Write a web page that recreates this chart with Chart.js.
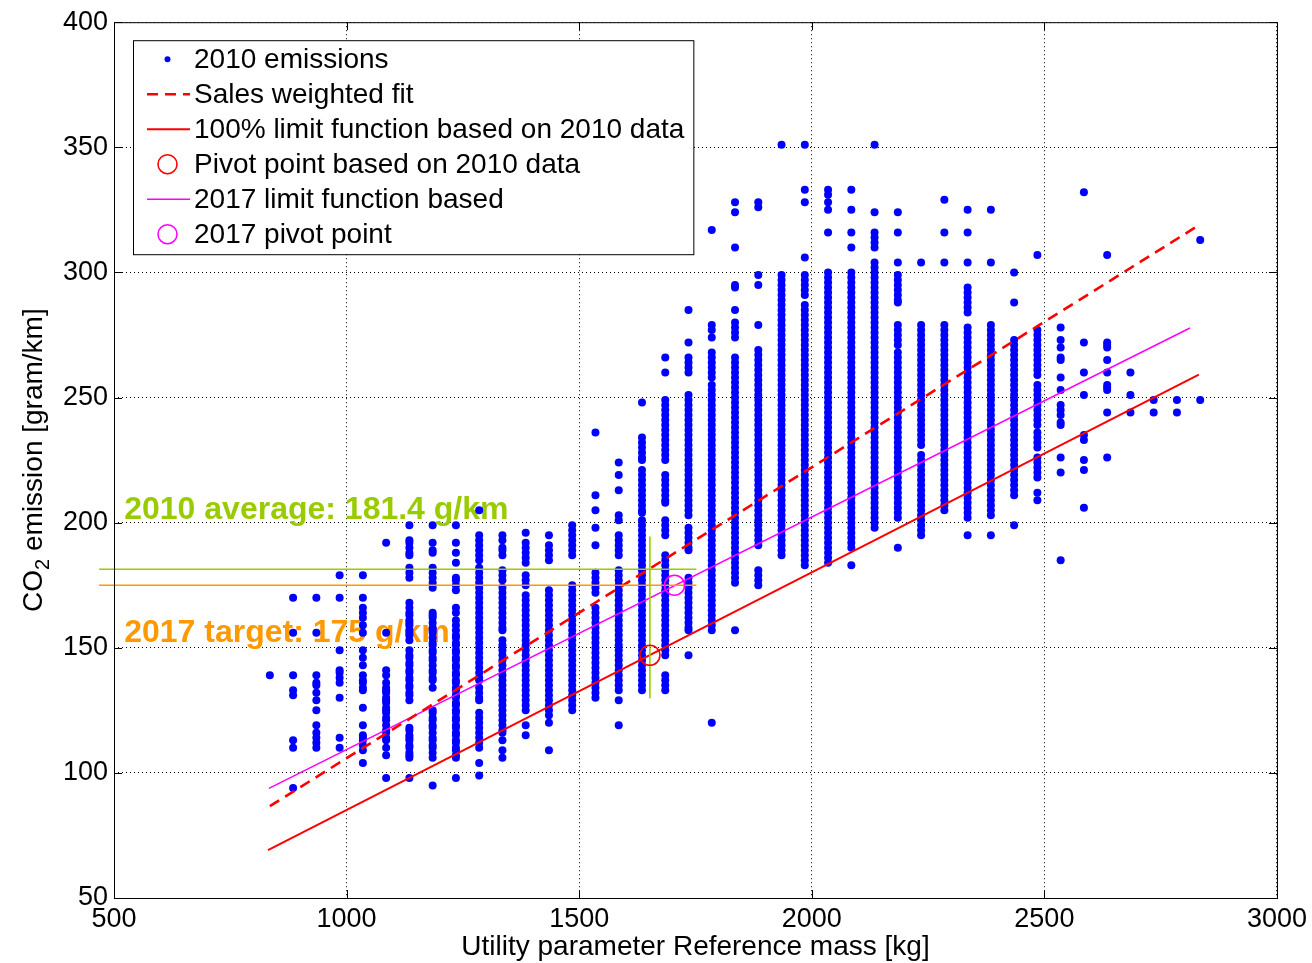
<!DOCTYPE html>
<html>
<head>
<meta charset="utf-8">
<title>CO2 emission vs reference mass</title>
<script src="https://cdn.jsdelivr.net/npm/chart.js@4.4.1/dist/chart.umd.min.js"></script>
<style>
  html, body { margin: 0; padding: 0; background: #fff; }
  canvas { display: block; }
</style>
</head>
<body>
<canvas id="co2Chart" width="1312" height="963"></canvas>
<script>
// ---- data ----
const massKg = [835, 885, 935, 985, 1035, 1085, 1135, 1185, 1235, 1285, 1335, 1385, 1435, 1485, 1535, 1585, 1635,
  1685, 1735, 1785, 1835, 1885, 1935, 1985, 2035, 2085, 2135, 2185, 2235, 2285, 2335, 2385, 2435, 2485, 2535,
  2585, 2635, 2685, 2735, 2785, 2835];

// CO2 [g/km] of the 2010 vehicles, one list per mass column
const co2ByMass = [
  [139],
  [170,156,139,133,131,113,110,94],
  [170,156,139,136,135,132,129,125,119,116,114,112,110],
  [179,170,149,141,140,138,136,130,114,110],
  [179,170,166,164,162,159,156,149,146,143,139,137,136,134,133,126,119,115,114,113,111,109,104],
  [192,156,141,139,136,134,133,132,130,129,128,126,125,124,122,121,119,117,116,114,113,110,107,98],
  [199,193,192,190,188,187,182,180,178,168,166,164,163,161,160,159,157,156,155,153,149,147,146,144,143,141,140,138,137,135,134,132,131,129,118,117,115,114,113,111,110,108,107,106,98],
  [199,192,189,188,182,180,178,176,174,164,163,162,160,158,157,156,154,152,151,149,148,146,145,143,141,140,138,137,134,125,124,122,121,119,118,116,114,113,111,110,108,106,95],
  [199,192,188,184,178,177,175,173,166,164,161,159,157,155,154,152,151,149,148,146,145,143,142,140,139,137,136,134,133,131,130,128,127,125,124,122,121,119,118,116,115,113,112,110,109,107,106,98],
  [205,195,193,191,189,187,185,182,180,178,176,174,172,170,168,166,164,162,160,158,156,154,152,150,148,146,144,142,140,138,137,134,132,130,129,124,122,120,118,116,114,112,110,104,99],
  [195,193,190,189,187,181,179,177,174,172,170,168,166,164,162,160,158,157,153,151,149,147,145,143,141,139,137,135,133,131,129,127,125,123,121,119,117,116,113,109,106],
  [196,192,190,188,186,184,179,177,175,171,169,167,165,163,161,159,157,155,153,151,149,147,145,143,141,139,137,135,133,131,129,127,125,119,115],
  [195,191,189,187,185,173,171,169,167,165,163,161,159,157,155,153,151,149,147,145,143,141,139,137,135,133,131,129,127,125,123,120,109],
  [199,197,195,193,191,189,187,175,173,171,169,167,165,163,161,159,157,155,153,151,149,147,145,143,141,139,137,135,133,131,129,127,125],
  [236,211,205,198,191,180,178,176,174,172,166,164,162,160,158,156,154,152,150,148,146,144,142,140,138,136,134,132,130],
  [224,219,213,203,201,195,193,191,189,187,181,179,177,175,173,171,169,167,165,163,161,159,157,155,153,151,149,147,145,143,141,139,137,135,133,129,119],
  [248,234,232,230,228,226,225,221,219,217,215,213,211,209,207,205,204,201,199,197,195,193,191,189,187,185,183,181,179,177,175,173,171,169,167,165,163,161,159,157,155,153,151,149,147,145,143,141,139,137,135,133],
  [266,260,249,247,245,243,241,239,237,235,233,231,229,227,225,219,217,215,213,211,209,208,201,199,197,195,187,185,183,181,179,177,175,173,171,169,167,165,163,161,159,157,155,153,151,149,147,139,137,135,133],
  [285,272,266,264,262,260,251,249,247,245,243,241,239,237,235,233,231,229,227,225,223,221,219,217,215,213,211,209,207,205,203,198,196,194,192,190,189,178,176,174,172,170,168,166,164,162,160,158,157,147],
  [317,279,277,274,268,266,264,262,260,258,255,253,251,249,247,245,243,241,239,237,235,233,231,229,227,225,223,221,219,217,215,213,211,209,207,205,203,201,199,197,195,193,191,189,187,185,183,181,179,177,175,173,171,169,167,165,163,161,159,157,120],
  [328,324,310,295,294,285,280,278,276,274,266,264,262,260,258,256,254,252,250,248,246,244,242,240,238,236,234,232,230,228,226,224,222,220,218,216,214,212,210,208,206,204,202,200,198,196,194,192,190,188,186,184,182,180,178,176,157],
  [328,326,299,295,279,269,267,265,263,261,259,257,255,253,251,249,247,245,243,241,239,237,235,233,231,229,227,225,223,221,219,217,215,213,211,209,207,205,203,201,199,197,195,193,191,181,179,177,175],
  [351,299,297,295,293,291,289,287,285,283,281,279,277,275,273,271,269,267,265,263,261,259,257,255,253,251,249,247,245,243,241,239,237,235,233,231,229,227,225,223,221,219,217,215,213,211,209,207,205,203,201,199,197,195,193,191,189,187],
  [351,333,328,306,299,297,295,293,291,287,285,283,281,279,277,275,273,271,269,267,265,263,261,259,257,255,253,251,249,247,245,243,241,239,237,235,233,231,229,227,225,223,221,219,217,215,213,211,209,207,205,203,201,199,197,195,193,191,189,187,185,183],
  [333,331,328,325,316,300,298,296,294,292,290,288,286,284,282,280,278,276,274,272,270,268,266,264,262,260,258,256,254,252,250,248,246,244,242,240,238,236,234,232,230,228,226,224,222,220,218,216,214,212,210,208,206,204,202,200,198,196,194,192,190,188,186,184],
  [333,325,316,310,300,298,296,294,292,290,288,286,284,282,280,278,276,274,272,270,268,266,264,262,260,258,256,254,252,250,248,246,244,242,240,238,236,234,232,230,228,226,224,222,220,218,216,214,212,210,208,206,204,202,200,198,196,194,192,190,183],
  [351,324,316,314,312,310,304,302,300,298,296,294,292,290,288,286,284,282,280,278,276,274,272,270,268,266,264,262,260,258,256,254,252,250,248,246,244,242,240,238,236,234,232,230,228,226,224,222,220,218,216,214,212,210,208,206,204,202,200,198],
  [324,316,304,299,297,295,293,291,289,288,279,277,275,273,271,268,266,264,262,260,258,256,254,252,250,248,246,244,242,240,238,236,234,232,230,228,226,224,222,220,218,216,214,212,210,208,206,204,202,190],
  [304,279,277,275,273,271,269,267,265,263,261,259,257,255,253,251,249,247,245,243,241,239,237,235,233,231,227,225,223,221,219,217,215,213,211,209,207,205,203,201,199,197,195],
  [329,316,304,279,277,275,273,271,269,267,265,263,261,259,257,255,253,251,249,247,245,243,241,239,237,235,233,231,229,227,225,223,221,219,217,215,213,211,209,207,205],
  [325,316,304,294,292,290,288,286,284,278,276,274,272,270,268,266,264,262,260,258,256,254,252,250,248,246,244,242,240,238,236,234,232,230,228,226,224,222,220,218,216,214,212,210,208,206,204,202,195],
  [325,304,279,277,275,273,271,269,267,265,263,261,259,257,255,253,251,249,247,245,243,241,239,237,235,233,231,229,227,225,223,221,219,217,215,213,211,209,207,205,203,195],
  [300,288,273,271,269,267,265,263,261,259,257,255,253,251,249,247,245,243,241,239,237,235,233,231,229,227,225,223,221,219,217,215,213,211,199],
  [307,277,275,273,271,269,267,265,263,261,259,255,253,251,249,247,245,243,241,239,236,234,232,230,226,224,222,220,218,212,209],
  [278,273,270,266,265,258,253,247,245,243,240,239,226,220,185],
  [332,272,260,251,235,233,225,221,206],
  [307,272,271,270,265,260,255,254,253,244,226],
  [260,251,244],
  [249,244],
  [249,244],
  [313,249]
];

// fitted / limit lines: end points [mass, co2]
const salesFitX = [835, 2835];
const salesFitY = [86.7, 319.2];
const limit2010X = [831, 2832];
const limit2010Y = [69.1, 259.2];
const limit2017X = [833, 2813];
const limit2017Y = [93.8, 277.8];
const pivot2010 = [1652, 147];
const pivot2017 = [1705, 175];

// reference markers
const average2010 = 181.4;
const target2017 = 175;
const refLineX = [468, 1752];
const averageMarkX = 1652;
const averageMarkY = [129.8, 194.5];

const xTicks = [500, 1000, 1500, 2000, 2500, 3000];
const yTicks = [50, 100, 150, 200, 250, 300, 350, 400];

const averageText = '2010 average: 181.4 g/km';
const targetText = '2017 target: 175 g/km';
const labelAnchorX = 522;
const averageTextY = 201.5;
const targetTextY = 152.5;

const FONT = '"Liberation Sans", Arial, Helvetica, sans-serif';
const GREEN = '#99cc00';
const ORANGE = '#ff9900';

// ---- build chart datasets ----
const emissionPoints = [];
massKg.forEach((m, i) => {
  co2ByMass[i].forEach(v => emissionPoints.push({ x: m, y: v }));
});

const pairs = (xs, ys) => xs.map((x, i) => ({ x: x, y: ys[i] }));

function lineSet(label, xs, ys, color, width, dash, kind) {
  return {
    label: label,
    data: pairs(xs, ys),
    showLine: true,
    borderColor: color,
    borderWidth: width,
    borderDash: dash || [],
    pointRadius: 0,
    fill: false,
    order: 2,
    legendKind: kind
  };
}

const datasets = [
  {
    label: '2010 emissions',
    data: emissionPoints,
    pointStyle: 'circle',
    pointRadius: 4,
    pointBackgroundColor: '#0000ff',
    pointBorderColor: '#0000ff',
    pointBorderWidth: 0,
    order: 10,
    legendKind: 'dot'
  },
  lineSet('Sales weighted fit', salesFitX, salesFitY, '#ff0000', 2.6, [11, 7], 'line'),
  lineSet('100% limit function based on 2010 data', limit2010X, limit2010Y, '#ff0000', 2, null, 'line'),
  {
    label: 'Pivot point based on 2010 data',
    data: [{ x: pivot2010[0], y: pivot2010[1] }],
    pointRadius: 10,
    pointBorderColor: '#ff0000',
    pointBackgroundColor: 'rgba(0,0,0,0)',
    pointBorderWidth: 1.6,
    order: 0,
    legendKind: 'ring'
  },
  lineSet('2017 limit function based', limit2017X, limit2017Y, '#ff00ff', 1.6, null, 'line'),
  {
    label: '2017 pivot point',
    data: [{ x: pivot2017[0], y: pivot2017[1] }],
    pointRadius: 10,
    pointBorderColor: '#ff00ff',
    pointBackgroundColor: 'rgba(0,0,0,0)',
    pointBorderWidth: 1.6,
    order: 0,
    legendKind: 'ring'
  },
  Object.assign(lineSet('average', refLineX, [average2010, average2010], GREEN, 1.6), { clip: false, order: 1 }),
  Object.assign(lineSet('target', refLineX, [target2017, target2017], ORANGE, 1.6), { clip: false, order: 1 }),
  Object.assign(lineSet('average mark', [averageMarkX, averageMarkX], averageMarkY, GREEN, 1.6), { order: 1 })
];

// ---- MATLAB style frame, ticks, titles, legend ----
const matlabLook = {
  id: 'matlabLook',
  beforeDatasetsDraw(chart) {
    const { ctx, scales: { x, y } } = chart;
    ctx.save();
    ctx.font = 'bold 32px ' + FONT;
    ctx.textBaseline = 'alphabetic';
    ctx.textAlign = 'left';
    ctx.fillStyle = GREEN;
    ctx.fillText(averageText, x.getPixelForValue(labelAnchorX), y.getPixelForValue(averageTextY));
    ctx.fillStyle = ORANGE;
    ctx.fillText(targetText, x.getPixelForValue(labelAnchorX), y.getPixelForValue(targetTextY));
    ctx.restore();
  },
  afterDraw(chart) {
    const { ctx, chartArea: a, scales: { x, y } } = chart;
    ctx.save();
    ctx.strokeStyle = '#000';
    ctx.lineWidth = 1;
    ctx.setLineDash([]);
    ctx.strokeRect(a.left + 0.5, a.top + 0.5, a.right - a.left, a.bottom - a.top);

    // inward ticks on all four sides
    ctx.beginPath();
    xTicks.forEach(t => {
      const px = Math.round(x.getPixelForValue(t)) + 0.5;
      ctx.moveTo(px, a.bottom); ctx.lineTo(px, a.bottom - 8);
      ctx.moveTo(px, a.top); ctx.lineTo(px, a.top + 8);
    });
    yTicks.forEach(t => {
      const py = Math.round(y.getPixelForValue(t)) + 0.5;
      ctx.moveTo(a.left, py); ctx.lineTo(a.left + 8, py);
      ctx.moveTo(a.right, py); ctx.lineTo(a.right - 8, py);
    });
    ctx.stroke();

    // axis titles
    ctx.fillStyle = '#000';
    ctx.textBaseline = 'alphabetic';
    ctx.textAlign = 'center';
    ctx.font = '28px ' + FONT;
    ctx.fillText('Utility parameter Reference mass [kg]', (a.left + a.right) / 2, 955);

    ctx.save();
    ctx.translate(32, (a.top + a.bottom) / 2);
    ctx.rotate(-Math.PI / 2);
    ctx.textAlign = 'left';
    const big = '28px ' + FONT, small = '20px ' + FONT;
    ctx.font = big;
    const w1 = ctx.measureText('CO').width;
    const w3 = ctx.measureText(' emission [gram/km]').width;
    ctx.font = small;
    const w2 = ctx.measureText('2').width;
    let sx = -(w1 + w2 + w3) / 2;
    ctx.font = big; ctx.fillText('CO', sx, 10); sx += w1;
    ctx.font = small; ctx.fillText('2', sx, 17); sx += w2;
    ctx.font = big; ctx.fillText(' emission [gram/km]', sx, 10);
    ctx.restore();

    // legend box
    const items = chart.data.datasets.filter(d => d.legendKind);
    ctx.font = '28px ' + FONT;
    const rowH = 35;
    const textW = Math.max(...items.map(d => ctx.measureText(d.label).width));
    const bx = a.left + 19, by = a.top + 18;
    const bw = 61 + textW + 9, bh = items.length * rowH + 4;
    ctx.fillStyle = '#fff';
    ctx.fillRect(bx, by, bw, bh);
    ctx.strokeStyle = '#000';
    ctx.lineWidth = 1;
    ctx.strokeRect(bx + 0.5, by + 0.5, bw, bh);
    items.forEach((d, i) => {
      const cy = by + 19 + i * rowH;
      const s0 = bx + 14, s1 = bx + 57, cx = (s0 + s1) / 2 - 1;
      if (d.legendKind === 'line') {
        ctx.strokeStyle = d.borderColor;
        ctx.lineWidth = d.borderWidth;
        ctx.setLineDash(d.borderDash);
        ctx.beginPath(); ctx.moveTo(s0, cy); ctx.lineTo(s1, cy); ctx.stroke();
        ctx.setLineDash([]);
      } else if (d.legendKind === 'dot') {
        ctx.fillStyle = d.pointBackgroundColor;
        ctx.beginPath(); ctx.arc(cx, cy, 3, 0, Math.PI * 2); ctx.fill();
      } else {
        ctx.strokeStyle = d.pointBorderColor;
        ctx.lineWidth = d.pointBorderWidth;
        ctx.beginPath(); ctx.arc(cx, cy, 9.5, 0, Math.PI * 2); ctx.stroke();
      }
      ctx.fillStyle = '#000';
      ctx.textAlign = 'left';
      ctx.textBaseline = 'middle';
      ctx.fillText(d.label, bx + 61, cy + 1);
    });
    ctx.restore();
  }
};

new Chart(document.getElementById('co2Chart'), {
  type: 'scatter',
  data: { datasets: datasets },
  options: {
    responsive: false,
    animation: false,
    layout: { padding: { left: 0, right: 34, top: 20, bottom: 0 } },
    plugins: {
      legend: { display: false },
      tooltip: { enabled: false }
    },
    scales: {
      x: {
        type: 'linear',
        min: 500,
        max: 3000,
        afterBuildTicks: s => { s.ticks = xTicks.map(v => ({ value: v })); },
        afterFit: s => { s.height = 65; },
        ticks: { color: '#000', font: { family: FONT, size: 27 }, padding: 5, maxRotation: 0, callback: v => String(v) },
        grid: { color: '#000', lineWidth: 1, drawTicks: false },
        border: { display: false, dash: [1, 3] }
      },
      y: {
        type: 'linear',
        min: 50,
        max: 400,
        afterBuildTicks: s => { s.ticks = yTicks.map(v => ({ value: v })); },
        afterFit: s => { s.width = 114; },
        ticks: { color: '#000', font: { family: FONT, size: 27 }, padding: 6, callback: v => String(v) },
        grid: { color: '#000', lineWidth: 1, drawTicks: false },
        border: { display: false, dash: [1, 3] }
      }
    }
  },
  plugins: [matlabLook]
});
</script>
</body>
</html>
